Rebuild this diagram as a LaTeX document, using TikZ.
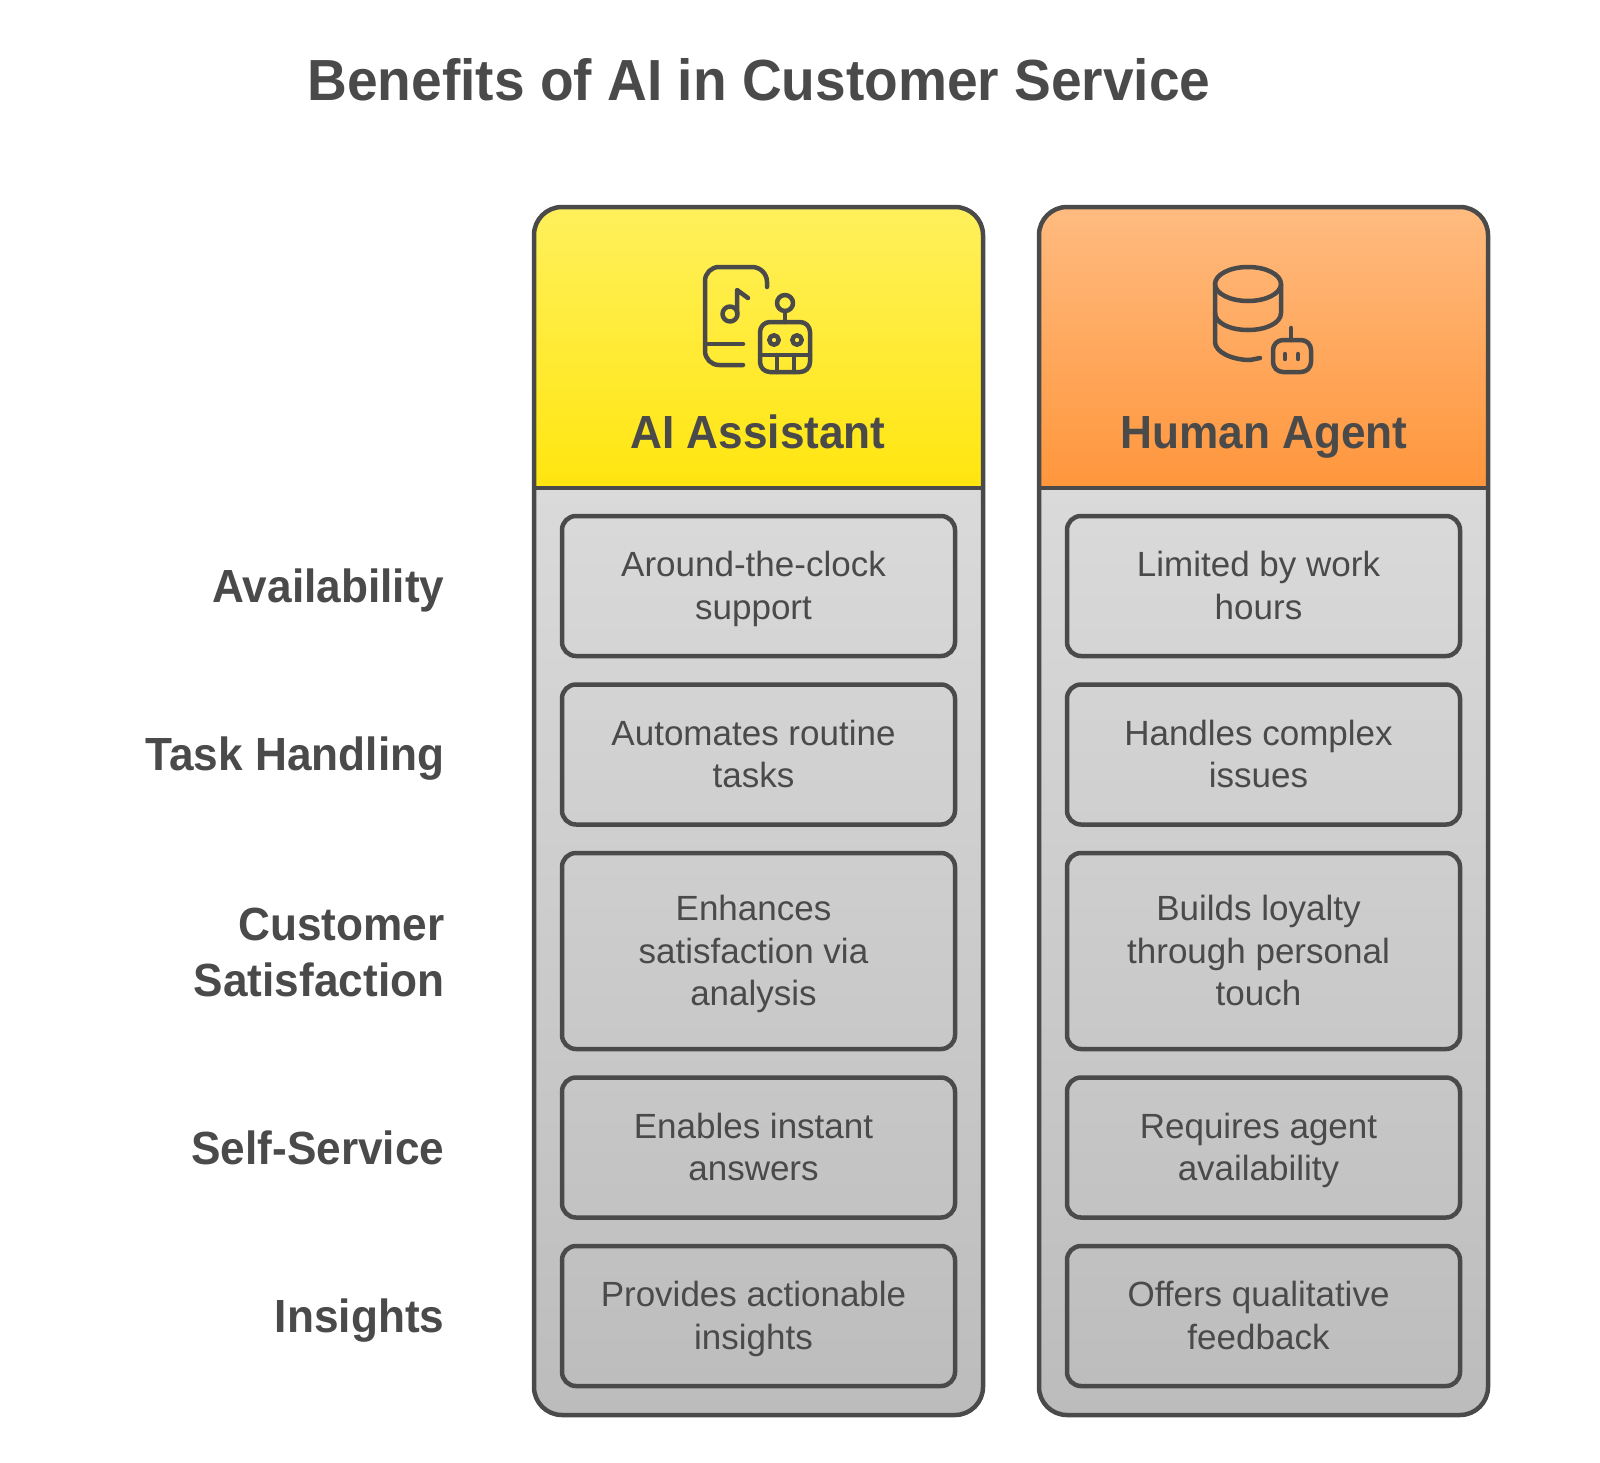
\documentclass[tikz,border=0pt]{standalone}
\usepackage{fontspec}
\setmainfont[BoldFeatures={FakeStretch=0.95}]{Liberation Sans}
\usetikzlibrary{positioning}
\definecolor{inkgray}{HTML}{4A4A4A}
\definecolor{yellowtop}{HTML}{FFF05C}
\definecolor{yellowbot}{HTML}{FFE60F}
\definecolor{orangetop}{HTML}{FFBB80}
\definecolor{orangebot}{HTML}{FF963C}
\definecolor{bodytop}{HTML}{DADADA}
\definecolor{bodybot}{HTML}{BCBCBC}
\newcommand{\celllines}[1]{\kern-10pt\begin{tabular}{@{}c@{}}\rule{0pt}{36.7pt}#1\end{tabular}}
\tikzset{
    titletext/.style={text=inkgray, anchor=base, font=\fontsize{58}{66}\selectfont\bfseries},
    headtext/.style={text=inkgray, anchor=base, font=\fontsize{46.5}{54}\selectfont\bfseries},
    rowlabel/.style={text=inkgray, anchor=east, align=right, inner sep=0pt, font=\fontsize{46.5}{56}\selectfont\bfseries},
    cellbox/.style={draw=inkgray, line width=4.5pt, rounded corners=14pt, minimum width=393pt, minimum height=140pt, inner sep=0pt, outer sep=0pt, text=inkgray, font=\fontsize{35}{42.4}\selectfont},
    paneline/.style={draw=inkgray, line width=4.5pt},
    iconline/.style={draw=inkgray, line width=4.5pt, line cap=round, line join=round}
}
\begin{document}
\begin{tikzpicture}[x=1pt, y=-1pt]
    \useasboundingbox (0,0) rectangle (1600,1462);

    % Title
    \node[titletext] (title) at (759,100.5) {Benefits of AI in Customer Service};

    % AI Assistant panel
    \shade[top color=bodytop, bottom color=bodybot] (534,488) [rounded corners=28pt] -- (534,1415) -- (983,1415) [sharp corners] -- (983,488) -- cycle;
    \shade[top color=yellowtop, bottom color=yellowbot] (534,488) [rounded corners=28pt] -- (534,207) -- (983,207) [sharp corners] -- (983,488) -- cycle;
    \draw[paneline, rounded corners=28pt] (534,207) rectangle (983,1415);
    \draw[paneline] (534,488) -- (983,488);

    % Human Agent panel
    \shade[top color=bodytop, bottom color=bodybot] (1039,488) [rounded corners=28pt] -- (1039,1415) -- (1488,1415) [sharp corners] -- (1488,488) -- cycle;
    \shade[top color=orangetop, bottom color=orangebot] (1039,488) [rounded corners=28pt] -- (1039,207) -- (1488,207) [sharp corners] -- (1488,488) -- cycle;
    \draw[paneline, rounded corners=28pt] (1039,207) rectangle (1488,1415);
    \draw[paneline] (1039,488) -- (1488,488);

    % Phone and robot icon
    \draw[iconline] (767,287) -- (767,282) arc (0:-90:15) -- (719,267) arc (-90:-180:14) -- (705,351) arc (180:90:14) -- (743,365);
    \draw[iconline] (705,344) -- (743,344);
    \draw[iconline] (730,314) circle (7.5);
    \draw[iconline] (737,314) -- (737,290) -- (748,298);
    \draw[iconline] (785,303) circle (8);
    \draw[iconline] (785,311) -- (785,322);
    \draw[iconline, rounded corners=10pt] (760,322) rectangle (810,372);
    \draw[iconline] (774,340) circle (4.7);
    \draw[iconline] (797,340) circle (4.7);
    \draw[iconline] (760,355) -- (810,355);
    \draw[iconline] (777,355) -- (777,372);
    \draw[iconline] (794,355) -- (794,372);

    % Database and robot icon
    \draw[iconline] (1248,284) ellipse (33 and 17);
    \draw[iconline] (1215,284) -- (1215,342) .. controls (1215,352) and (1232,360) .. (1250,360) -- (1260,358);
    \draw[iconline] (1215,313) .. controls (1215,323) and (1230,330) .. (1248,330) .. controls (1266,330) and (1281,323) .. (1281,313) -- (1281,284);
    \draw[iconline, rounded corners=10pt] (1273,340) rectangle (1311,372);
    \draw[iconline] (1291,328) -- (1291,340);
    \draw[iconline] (1285,354) -- (1285,359);
    \draw[iconline] (1298,354) -- (1298,359);

    % Column heads
    \node[headtext] (aihead) at (758,448) {AI Assistant};
    \node[headtext] (humanhead) at (1264,448) {Human Agent};

    % Row labels
    \node[rowlabel] (availability) at (444.5,590) {Availability};
    \node[rowlabel] (taskhandling) at (444.5,759) {Task Handling};
    \node[rowlabel] (satisfaction) at (444.5,952) {Customer\\Satisfaction};
    \node[rowlabel] (selfservice) at (444.5,1148) {Self-Service};
    \node[rowlabel] (insights) at (444.5,1321) {Insights};

    % AI Assistant cells
    \node[cellbox] (aiavail) at (758.5,586) {\celllines{Around-the-clock\\support}};
    \node[cellbox] (aitask) at (758.5,754.5) {\celllines{Automates routine\\tasks}};
    \node[cellbox, minimum height=196pt] (aisat) at (758.5,951) {\celllines{Enhances\\satisfaction via\\analysis}};
    \node[cellbox] (aiself) at (758.5,1147.5) {\celllines{Enables instant\\answers}};
    \node[cellbox] (aiinsight) at (758.5,1316) {\celllines{Provides actionable\\insights}};

    % Human Agent cells
    \node[cellbox] (huavail) at (1263.5,586) {\celllines{Limited by work\\hours}};
    \node[cellbox] (hutask) at (1263.5,754.5) {\celllines{Handles complex\\issues}};
    \node[cellbox, minimum height=196pt] (husat) at (1263.5,951) {\celllines{Builds loyalty\\through personal\\touch}};
    \node[cellbox] (huself) at (1263.5,1147.5) {\celllines{Requires agent\\availability}};
    \node[cellbox] (huinsight) at (1263.5,1316) {\celllines{Offers qualitative\\feedback}};
\end{tikzpicture}
\end{document}
